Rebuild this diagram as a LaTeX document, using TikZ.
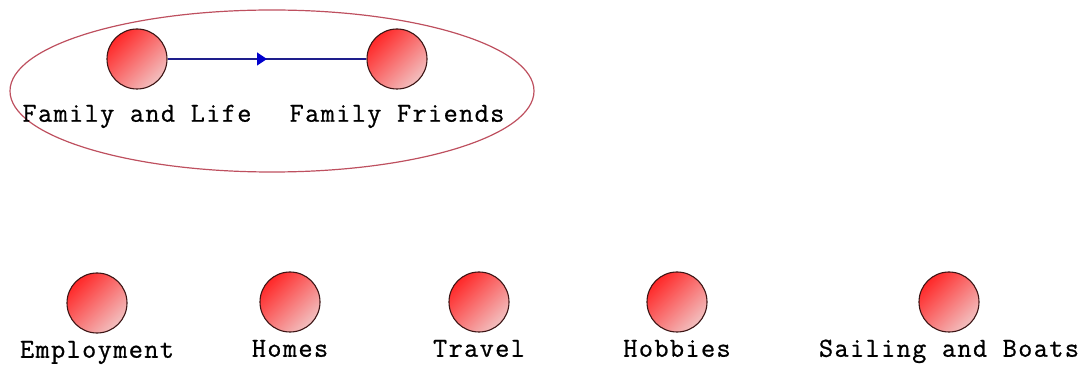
\documentclass[tikz,border=0pt]{standalone}
\usepackage{fontspec}
\newfontfamily\tagfont{Latin Modern Mono}[LetterSpace=5, FakeBold=0.8]
\usetikzlibrary{shapes.geometric,decorations.markings,arrows.meta}
\definecolor{ballred}{RGB}{255,40,40}
\definecolor{ballpink}{RGB}{242,192,192}
\definecolor{ringline}{RGB}{60,20,20}
\definecolor{grpline}{RGB}{190,80,95}
\definecolor{linkblue}{RGB}{30,30,140}
\definecolor{tipblue}{RGB}{0,0,205}
\begin{document}
\begin{tikzpicture}[x=1pt, y=-1pt,
		ball/.style={circle, draw=ringline, line width=1.1pt, minimum size=60pt, inner sep=0pt, top color=ballred, bottom color=ballpink, shading angle=45},
		every label/.style={font=\tagfont\fontsize{27.5}{29}\selectfont, inner sep=0pt, text height=17pt, text depth=5pt},
		group/.style={ellipse, draw=grpline, line width=1.2pt, minimum width=524pt, minimum height=162pt},
		link/.style={draw=linkblue, line width=1.3pt, postaction={decorate}, decoration={markings, mark=at position 0.5 with {\arrow[tipblue]{Triangle[length=10pt, width=13pt]}}}}]
		\useasboundingbox (0,0) rectangle (1087,371);
		\node[group] (family) at (272,91) {};
		\node[ball, label={[label distance=15pt]below:{Family and Life}}] (life) at (137,59) {};
		\node[ball, label={[label distance=15pt]below:{Family Friends}}] (friends) at (397,59) {};
		\draw[link] (life) -- (friends);
		\node[ball, label={[label distance=7pt]below:{Employment}}] (work) at (97,303) {};
		\node[ball, label={[label distance=7pt]below:{Homes}}] (homes) at (290,302) {};
		\node[ball, label={[label distance=7pt]below:{Travel}}] (travel) at (479,302) {};
		\node[ball, label={[label distance=7pt]below:{Hobbies}}] (hobbies) at (677,302) {};
		\node[ball, label={[label distance=7pt]below:{Sailing and Boats}}] (boats) at (949,302) {};
	\end{tikzpicture}
\end{document}
